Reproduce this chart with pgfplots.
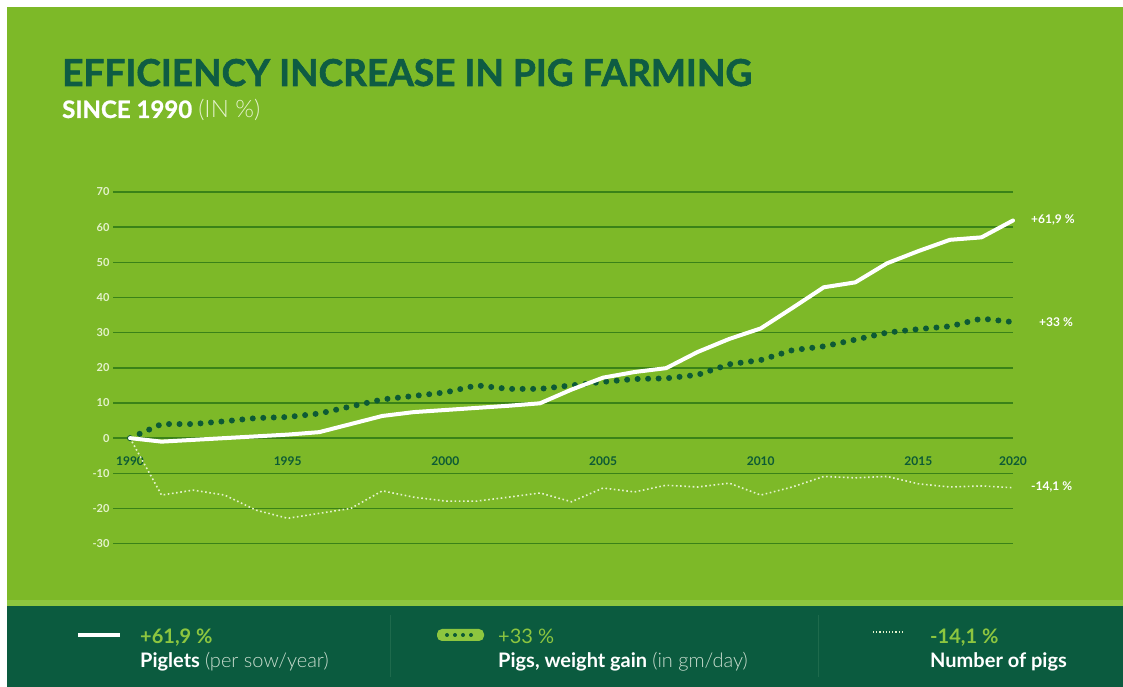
\documentclass[border=0pt]{standalone}
\usepackage{pgfplots}
\pgfplotsset{compat=1.18}
\usepackage{fontspec}
\setmainfont{Lato}
\newfontfamily\latolight{Lato Light}
\definecolor{bggreen}{HTML}{7DB928}
\definecolor{titlegreen}{HTML}{0E5C43}
\definecolor{band}{HTML}{0B5B3F}
\definecolor{strip}{HTML}{8DC63F}
\definecolor{gridc}{HTML}{3A8218}
\definecolor{wgreen}{HTML}{0D5A35}
\definecolor{pale}{HTML}{E4F2CC}
\definecolor{accent}{HTML}{8DC63F}
\definecolor{sep}{HTML}{1E6A4C}
\definecolor{soft}{HTML}{C9DDCF}
\begin{document}
\begin{tikzpicture}[x=1pt,y=1pt]
\useasboundingbox (0,0) rectangle (1123,687);
\fill[white] (0,0) rectangle (1123,687);
\fill[bggreen] (7,87) rectangle (1123,680);
\fill[strip] (7,81) rectangle (1123,87);
\fill[band] (7,0) rectangle (1123,81);
\node[anchor=base west, inner sep=0, font=\fontsize{37}{37}\selectfont\bfseries\addfontfeature{FakeBold=1.6}, text=titlegreen] at (62,601) {EFFICIENCY INCREASE IN PIG FARMING};
\node[anchor=base west, inner sep=0, font=\fontsize{24}{24}\selectfont, text=white] at (62,569) {{\bfseries\addfontfeature{FakeBold=1}SINCE 1990} {\latolight\color{pale}(IN \%)}};
\begin{axis}[at={(113pt,143.4pt)}, anchor=south west, scale only axis,
  width=900pt, height=351.6pt,
  xmin=1989.46, xmax=2018, ymin=-30, ymax=70,
  axis line style={draw=none}, major tick length=0pt,
  ytick={-30,-20,...,70},
  ymajorgrids, grid style={gridc, line width=1.5pt},
  xtick={1990,1995,2000,2005,2010,2015,2018},
  xticklabels={1990,1995,2000,2005,2010,2015,2020},
  xticklabel style={yshift=90pt, text=wgreen, font=\fontsize{12}{12}\selectfont\bfseries},
  yticklabel style={text=pale, font=\fontsize{11}{11}\selectfont\bfseries},
  /pgf/number format/assume math mode=true,
  clip=false]
\addplot[pale, line width=1.6pt, dash pattern=on 1.6pt off 2.6pt] coordinates {
(1990,0) (1991,-16.2) (1992,-14.8) (1993,-16.2) (1994,-20.5) (1995,-22.8) (1996,-21.4) (1997,-20) (1998,-15) (1999,-16.8) (2000,-17.9) (2001,-17.9) (2002,-16.8) (2003,-15.6) (2004,-18.1) (2005,-14.2) (2006,-15.3) (2007,-13.4) (2008,-13.9) (2009,-12.8) (2010,-16.2) (2011,-13.9) (2012,-10.9) (2013,-11.3) (2014,-10.9) (2015,-13) (2016,-13.9) (2017,-13.6) (2018,-14.1)};
\addplot[wgreen, line width=6pt, line cap=round, dash pattern=on 0pt off 10.5pt] coordinates {
(1990,0) (1991,4) (1992,4) (1993,4.8) (1994,5.7) (1995,6) (1996,7) (1997,9) (1998,11) (1999,12) (2000,13) (2001,15) (2002,14) (2003,14) (2004,15) (2005,16) (2006,16.8) (2007,17) (2008,18) (2009,21) (2010,22.2) (2011,25) (2012,26.1) (2013,28) (2014,30) (2015,31) (2016,31.8) (2017,34) (2018,33)};
\addplot[white, line width=4pt, line join=round, line cap=round] coordinates {
(1990,0) (1991,-1) (1992,-0.5) (1993,0) (1994,0.5) (1995,1) (1996,1.7) (1997,4) (1998,6.3) (1999,7.4) (2000,8) (2001,8.6) (2002,9.2) (2003,9.9) (2004,13.8) (2005,17.2) (2006,18.8) (2007,19.9) (2008,24.5) (2009,28.2) (2010,31.2) (2011,37) (2012,42.9) (2013,44.3) (2014,49.7) (2015,53.2) (2016,56.4) (2017,57.1) (2018,61.9)};
\end{axis}
\node[anchor=west, inner sep=0, text=white, font=\fontsize{12}{12}\selectfont\bfseries] at (1031,467) {+61,9 \%};
\node[anchor=west, inner sep=0, text=white, font=\fontsize{12}{12}\selectfont\bfseries] at (1039,365) {+33 \%};
\node[anchor=west, inner sep=0, text=white, font=\fontsize{12}{12}\selectfont\bfseries] at (1031,200) {-14,1 \%};
% legend band
\draw[sep, line width=1pt] (390,10) -- (390,72);
\draw[sep, line width=1pt] (818,10) -- (818,72);
\draw[white, line width=4pt] (78,52) -- (120,52);
\node[anchor=base west, inner sep=0, text=accent, font=\fontsize{20}{20}\selectfont\bfseries] at (140,43) {+61,9 \%};
\node[anchor=base west, inner sep=0, text=white, font=\fontsize{20}{20}\selectfont] at (140,19) {\textbf{Piglets} {\latolight\color{soft}(per sow/year)}};
\fill[accent, rounded corners=5pt] (437,46) rectangle (484,58);
\foreach \xx in {446,454,462,470} {\fill[wgreen] (\xx+1,52) circle (2pt);}
\node[anchor=base west, inner sep=0, text=accent, font=\fontsize{20}{20}\selectfont] at (498,43) {+33 \%};
\node[anchor=base west, inner sep=0, text=white, font=\fontsize{20}{20}\selectfont] at (498,19) {\textbf{Pigs, weight gain} {\latolight\color{soft}(in gm/day)}};
\draw[pale, line width=1.2pt, dash pattern=on 1.2pt off 2pt] (873,55) -- (902,55);
\node[anchor=base west, inner sep=0, text=accent, font=\fontsize{20}{20}\selectfont\bfseries] at (930,43) {-14,1 \%};
\node[anchor=base west, inner sep=0, text=white, font=\fontsize{20}{20}\selectfont\bfseries] at (930,19) {Number of pigs};
\end{tikzpicture}
\end{document}
